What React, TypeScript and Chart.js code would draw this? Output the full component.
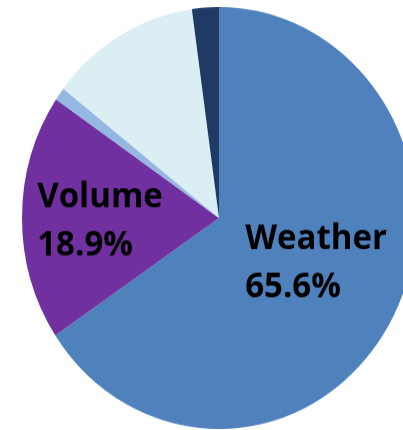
import { useEffect, useRef } from "react";
import { Chart, registerables } from "chart.js";

Chart.register(...registerables);

// Share of delays by cause (percent)
const categories = ["Weather", "Volume", "Category 3", "Category 4", "Category 5"];
const shares = [65.6, 18.9, 1.0, 12.3, 2.2];
const sliceColors = ["#4F81BD", "#7030A0", "#95B8E3", "#DAEEF3", "#1F3A64"];

// Slices that carry an in-slice label (name + percentage)
const labelledCategories = ["Weather", "Volume"];

const labelFont = { family: "'Open Sans', 'Liberation Sans', sans-serif", size: 33 };

// Draws "name\nvalue%" left-aligned inside selected slices
const sliceLabels = {
  id: "sliceLabels",
  afterDatasetsDraw(chart: any, _args: any, opts: any) {
    const ctx: CanvasRenderingContext2D = chart.ctx;
    const meta = chart.getDatasetMeta(0);
    const values: number[] = chart.data.datasets[0].data;
    const names: string[] = chart.data.labels;
    const size = opts.size;
    const capHeight = size * 0.714;
    const lineHeight = opts.lineHeight;
    ctx.save();
    ctx.font = `bold ${size}px ${opts.family}`;
    ctx.fillStyle = opts.color;
    ctx.textAlign = "left";
    ctx.textBaseline = "alphabetic";
    for (const item of opts.items) {
      const i = names.indexOf(item.label);
      if (i < 0) continue;
      const arc = meta.data[i];
      const { x, y, startAngle, endAngle, outerRadius } = arc.getProps(
        ["x", "y", "startAngle", "endAngle", "outerRadius"],
        true
      );
      const mid = (startAngle + endAngle) / 2;
      const cx = x + Math.cos(mid) * outerRadius * item.radius + item.dx;
      const cy = y + Math.sin(mid) * outerRadius * item.radius + item.dy;
      const lines = [names[i], `${values[i].toFixed(1)}%`];
      const w = Math.max(...lines.map((l) => ctx.measureText(l).width));
      const left = cx - w / 2;
      const lastBase = cy + (capHeight + (lines.length - 1) * lineHeight) / 2;
      lines.forEach((l, k) => {
        ctx.fillText(l, left, lastBase - (lines.length - 1 - k) * lineHeight);
      });
    }
    ctx.restore();
  },
};

export default function App() {
  const canvasRef = useRef<HTMLCanvasElement | null>(null);

  useEffect(() => {
    if (!canvasRef.current) return;
    const chart = new Chart(canvasRef.current, {
      type: "pie",
      data: {
        labels: categories,
        datasets: [
          {
            data: shares,
            backgroundColor: sliceColors,
            borderWidth: 0,
          },
        ],
      },
      options: {
        animation: false,
        responsive: true,
        maintainAspectRatio: false,
        layout: { padding: 0 },
        plugins: {
          legend: { display: false },
          tooltip: { enabled: false },
          sliceLabels: {
            family: labelFont.family,
            size: labelFont.size,
            lineHeight: 45,
            color: "#000000",
            items: [
              { label: labelledCategories[0], radius: 0.53, dx: 5, dy: -9 },
              { label: labelledCategories[1], radius: 0.604, dx: 0, dy: 1 },
            ],
          },
        } as any,
      },
      plugins: [sliceLabels],
    });
    return () => chart.destroy();
  }, []);

  return (
    <div
      style={{
        position: "absolute",
        left: 0,
        top: 0,
        width: 403,
        height: 430,
        overflow: "hidden",
        background: "#ffffff",
      }}
    >
      <div
        style={{
          position: "absolute",
          left: 22,
          top: 7,
          width: 394,
          height: 394,
          transform: "scaleY(1.0711)",
          transformOrigin: "0 0",
        }}
      >
        <canvas ref={canvasRef} />
      </div>
    </div>
  );
}
